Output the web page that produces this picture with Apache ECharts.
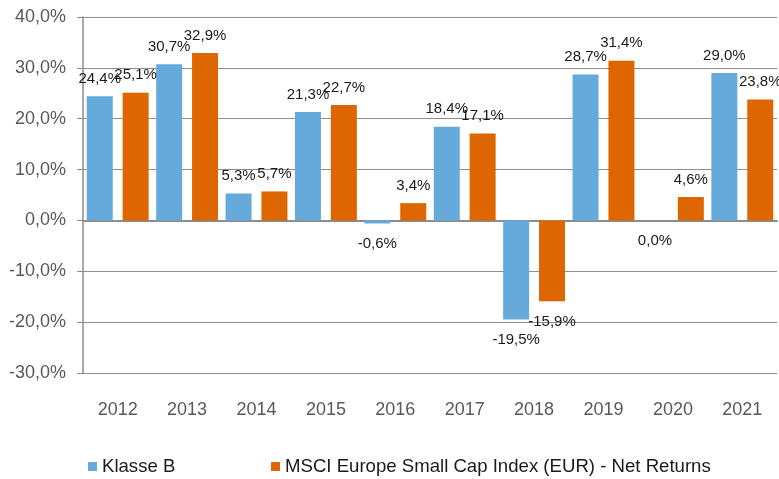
<!DOCTYPE html>
<html>
<head>
<meta charset="utf-8">
<script src="https://cdn.jsdelivr.net/npm/echarts@6/dist/echarts.min.js"></script>
<style>
  html, body { margin: 0; padding: 0; background: #fff; }
  #chart { width: 779px; height: 479px; }
</style>
</head>
<body>
<div id="chart"></div>
<script>
const FONT = "'Liberation Sans', Arial, sans-serif";

const years = ["2012", "2013", "2014", "2015", "2016", "2017", "2018", "2019", "2020", "2021"];
const klasseB = [24.4, 30.7, 5.3, 21.3, -0.6, 18.4, -19.5, 28.7, 0.0, 29.0];
const msci = [25.1, 32.9, 5.7, 22.7, 3.4, 17.1, -15.9, 31.4, 4.6, 23.8];

const NAME_B = "Klasse B";
const NAME_M = "MSCI Europe Small Cap Index (EUR) - Net Returns";

const COLOR = { b: "#66aadc", m: "#dd6600" };

const pct = v => v.toFixed(1).replace(".", ",") + "%";

// positive values get the label above, zero/negative below
function withLabels(values) {
  return values.map(v => ({
    value: v,
    label: v > 0
      ? { position: "top", distance: 10 }
      : { position: "bottom", distance: 13 },
  }));
}

const legendText = { fontSize: 18.6, color: "#1a1a1a", fontFamily: FONT };

const chart = echarts.init(document.getElementById("chart"));

chart.setOption({
  animation: false,
  textStyle: { fontFamily: FONT },
  grid: { left: 83, right: 2, top: 17, bottom: 106, containLabel: false },
  legend: [
    {
      data: [NAME_B], left: 88, top: 457, padding: 0,
      itemWidth: 9, itemHeight: 9, icon: "rect",
      textStyle: legendText,
    },
    {
      data: [NAME_M], left: 271, top: 457, padding: 0,
      itemWidth: 9, itemHeight: 9, icon: "rect",
      textStyle: legendText,
    },
  ],
  xAxis: [
    {
      type: "category", data: years, position: "top",
      axisLine: { show: true, onZero: true, lineStyle: { color: "#8c8c8c", width: 2 } },
      axisTick: { show: false },
      axisLabel: { show: false },
      splitLine: { show: false },
    },
    {
      type: "category", data: years, position: "bottom",
      axisLine: { show: false, onZero: false },
      axisTick: { show: false },
      axisLabel: { margin: 28, fontSize: 18, color: "#595959", fontFamily: FONT },
    },
  ],
  yAxis: {
    type: "value", min: -30, max: 40, interval: 10,
    axisLine: { show: true, lineStyle: { color: "#8c8c8c", width: 1.5 } },
    axisTick: { show: true, length: 6, lineStyle: { color: "#8c8c8c" } },
    axisLabel: { margin: 17, fontSize: 18, color: "#595959", fontFamily: FONT, formatter: pct },
    splitLine: { show: true, lineStyle: { color: "#8f8f8f", width: 1 } },
  },
  series: [
    {
      name: NAME_B, type: "bar", xAxisIndex: 0,
      barWidth: 26, barGap: "38%",
      itemStyle: { color: COLOR.b },
      label: { show: true, fontSize: 15, color: "#1a1a1a", fontFamily: FONT, formatter: p => pct(p.value) },
      data: withLabels(klasseB),
    },
    {
      name: NAME_M, type: "bar", xAxisIndex: 0,
      barWidth: 26, barGap: "38%",
      itemStyle: { color: COLOR.m },
      label: { show: true, fontSize: 15, color: "#1a1a1a", fontFamily: FONT, formatter: p => pct(p.value) },
      data: withLabels(msci),
    },
  ],
});
</script>
</body>
</html>
